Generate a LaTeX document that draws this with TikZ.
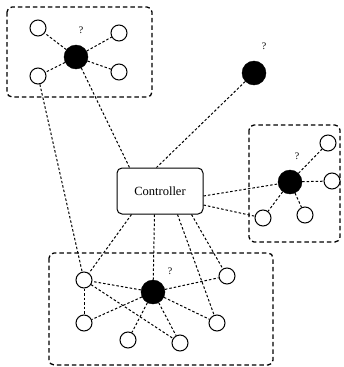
\documentclass[tikz,border=0pt]{standalone}
\usepackage{fontspec}
\setmainfont{Liberation Serif}
\begin{document}
\begin{tikzpicture}[x=1pt,y=-1pt,
  open/.style={circle,draw,line width=1pt,fill=white,minimum size=16pt,inner sep=0pt},
  hub/.style={circle,fill=black,draw,minimum size=24pt,inner sep=0pt},
  link/.style={line width=1pt,dash pattern=on 2.5pt off 2pt},
  group/.style={draw,line width=1.3pt,dash pattern=on 4.5pt off 3pt,rounded corners=5pt},
  ctrl/.style={draw,line width=1pt,rounded corners=5pt,minimum width=86pt,minimum height=46pt,font=\fontsize{12.5}{14}\selectfont},
  qm/.style={font=\fontsize{10}{11}\selectfont,inner sep=0pt}]
\useasboundingbox (0,0) rectangle (344,367);
% groups
\draw[group] (7,7) rectangle (152,97);
\draw[group] (249,125) rectangle (340,242);
\draw[group] (49,253) rectangle (273,365);
% controller
\node[ctrl] (c) at (160,191) {Controller};
\coordinate (cn1) at ([xshift=13pt]c.north west);
\coordinate (cn2) at ([xshift=40pt]c.north west);
\coordinate (cs1) at ([xshift=15pt]c.south west);
\coordinate (cs2) at ([xshift=38pt]c.south west);
\coordinate (cs3) at ([xshift=61pt]c.south west);
\coordinate (cs4) at ([xshift=75pt]c.south west);
\coordinate (ce1) at ([yshift=-5pt]c.east);
\coordinate (ce2) at ([yshift=-14pt]c.east);
% top-left group
\node[hub] (h1) at (76,57) {};
\node[open] (t1) at (38,28) {};
\node[open] (t2) at (119,33) {};
\node[open] (t3) at (38,76) {};
\node[open] (t4) at (119,72) {};
\node[qm] (q1) at (81,30) {?};
% isolated
\node[hub] (h2) at (254,73) {};
\node[qm] (q2) at (264,46) {?};
% right group
\node[hub] (h3) at (290,182) {};
\node[open] (r1) at (328,143) {};
\node[open] (r2) at (332,181) {};
\node[open] (r3) at (305,215) {};
\node[open] (r4) at (263,218) {};
\node[qm] (q3) at (297,156) {?};
% bottom group
\node[hub] (h4) at (153,292) {};
\node[open] (b1) at (84,280) {};
\node[open] (b2) at (84,323) {};
\node[open] (b3) at (128,340) {};
\node[open] (b4) at (180,343) {};
\node[open] (b5) at (217,323) {};
\node[open] (b6) at (227,276) {};
\node[qm] (q4) at (170,271) {?};
% links
\draw[link] (h1) -- (t1);
\draw[link] (h1) -- (t2);
\draw[link] (h1) -- (t3);
\draw[link] (h1) -- (t4);
\draw[link] (h1) -- (cn1);
\draw[link] (h2) -- (cn2);
\draw[link] (t3) -- (b1);
\draw[link] (h3) -- (r1);
\draw[link] (h3) -- (r2);
\draw[link] (h3) -- (r3);
\draw[link] (h3) -- (r4);
\draw[link] (ce1) -- (h3);
\draw[link] (ce2) -- (r4);
\draw[link] (cs1) -- (b1);
\draw[link] (cs2) -- (h4);
\draw[link] (cs3) -- (b5);
\draw[link] (cs4) -- (b6);
\draw[link] (h4) -- (b1);
\draw[link] (h4) -- (b2);
\draw[link] (h4) -- (b3);
\draw[link] (h4) -- (b4);
\draw[link] (h4) -- (b5);
\draw[link] (h4) -- (b6);
\draw[link] (b1) -- (b2);
\draw[link] (b1) -- (b4);
\end{tikzpicture}
\end{document}
